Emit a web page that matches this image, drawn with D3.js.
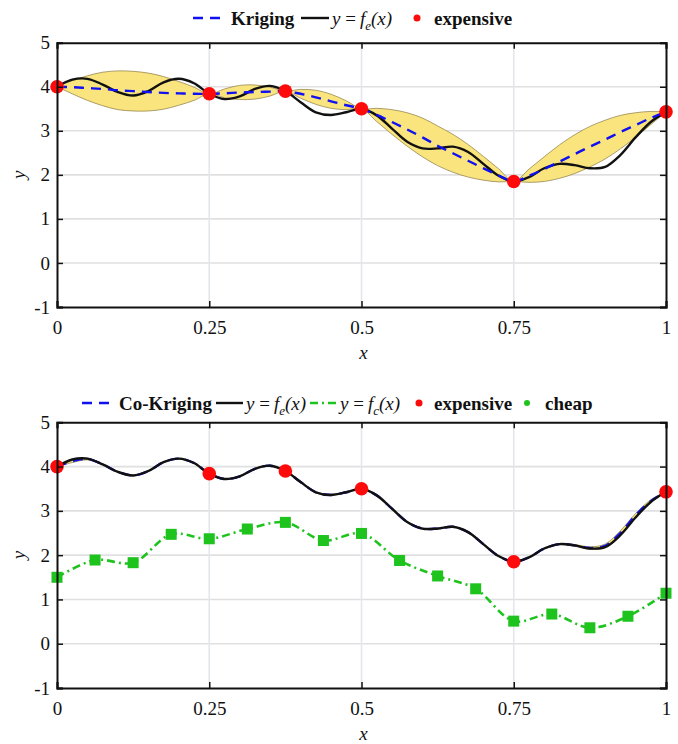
<!DOCTYPE html>
<html>
<head>
<meta charset="utf-8">
<script src="https://cdn.jsdelivr.net/npm/d3@7"></script>
<style>
  html, body { margin: 0; padding: 0; background: #ffffff; }
  svg { display: block; }
  svg text { font-family: "Liberation Serif", "Times New Roman", serif !important; fill: #111; }
</style>
</head>
<body>
<svg id="chart" width="678" height="744"></svg>
<script>
// ---- Sample locations of the dense curves ----
const sampleX = [0, 0.025, 0.05, 0.075, 0.1, 0.125, 0.15, 0.175, 0.2, 0.225,
  0.25, 0.275, 0.3, 0.325, 0.35, 0.375, 0.4, 0.425, 0.45, 0.475,
  0.5, 0.525, 0.55, 0.575, 0.6, 0.625, 0.65, 0.675, 0.7, 0.725,
  0.75, 0.775, 0.8, 0.825, 0.85, 0.875, 0.9, 0.925, 0.95, 0.975, 1];

// High-fidelity function y = f_e(x)
const feValues = [4.00, 4.16, 4.18, 4.05, 3.88, 3.80, 3.90, 4.10, 4.18, 4.08,
  3.84, 3.72, 3.78, 3.95, 4.02, 3.90, 3.65, 3.42, 3.36, 3.42,
  3.50, 3.35, 3.05, 2.75, 2.60, 2.60, 2.64, 2.52, 2.25, 1.98,
  1.85, 1.95, 2.15, 2.25, 2.22, 2.15, 2.18, 2.45, 2.85, 3.20, 3.43];

// Kriging prediction (expensive data only) and half-width of its band
const krigMean = [4.00, 3.99, 3.97, 3.95, 3.92, 3.90, 3.88, 3.86, 3.85, 3.84,
  3.84, 3.85, 3.87, 3.88, 3.89, 3.90, 3.84, 3.76, 3.67, 3.58,
  3.50, 3.36, 3.20, 3.03, 2.85, 2.66, 2.49, 2.32, 2.15, 1.99,
  1.85, 1.98, 2.13, 2.30, 2.47, 2.64, 2.80, 2.97, 3.13, 3.29, 3.43];
const krigHalf = [0, 0.15, 0.28, 0.38, 0.44, 0.45, 0.43, 0.37, 0.27, 0.15,
  0, 0.10, 0.16, 0.16, 0.10, 0, 0.10, 0.16, 0.16, 0.10,
  0, 0.15, 0.28, 0.38, 0.44, 0.45, 0.43, 0.37, 0.27, 0.15,
  0, 0.15, 0.28, 0.38, 0.44, 0.46, 0.44, 0.38, 0.28, 0.15, 0];

// Co-Kriging prediction (expensive + cheap data) and half-width of its band
const cokMean = [4.00, 4.12, 4.17, 4.05, 3.88, 3.80, 3.90, 4.10, 4.18, 4.08,
  3.84, 3.72, 3.78, 3.95, 4.02, 3.90, 3.65, 3.42, 3.36, 3.42,
  3.50, 3.35, 3.05, 2.75, 2.60, 2.60, 2.64, 2.52, 2.25, 1.98,
  1.85, 1.95, 2.15, 2.25, 2.22, 2.16, 2.21, 2.50, 2.90, 3.22, 3.43];
const cokHalf = [0, 0.03, 0.02, 0.01, 0.01, 0.01, 0.01, 0.01, 0.01, 0.01,
  0, 0.01, 0.01, 0.01, 0.01, 0, 0.01, 0.01, 0.01, 0.01,
  0, 0.01, 0.01, 0.01, 0.01, 0.01, 0.01, 0.01, 0.01, 0.01,
  0, 0.01, 0.01, 0.01, 0.02, 0.03, 0.04, 0.05, 0.04, 0.03, 0];

// Expensive (high-fidelity) samples
const expensiveX = [0, 0.25, 0.375, 0.5, 0.75, 1];
const expensiveY = [4.00, 3.84, 3.90, 3.50, 1.85, 3.43];

// Cheap (low-fidelity) samples, y = f_c(x)
const cheapX = [0, 0.0625, 0.125, 0.1875, 0.25, 0.3125, 0.375, 0.4375, 0.5,
  0.5625, 0.625, 0.6875, 0.75, 0.8125, 0.875, 0.9375, 1];
const cheapY = [1.50, 1.89, 1.83, 2.47, 2.37, 2.59, 2.74, 2.33, 2.49,
  1.88, 1.53, 1.24, 0.51, 0.67, 0.36, 0.62, 1.14];

// Axis ticks
const xTicks = [0, 0.25, 0.5, 0.75, 1];
const xTickLabels = ["0", "0.25", "0.5", "0.75", "1"];
const yTicks = [-1, 0, 1, 2, 3, 4, 5];

// ---- Drawing ----
const svg = d3.select("#chart");
const SERIF = '"Liberation Serif", "Times New Roman", serif';
const COLORS = { blue: "#1010f0", red: "#ff0a0a", green: "#1ec31e", band: "#f9e47e", bandEdge: "#8a7a45" };

const x = d3.scaleLinear().domain([0, 1]).range([57, 666]);

function buildPanel(top, bottom) {
  const y = d3.scaleLinear().domain([-1, 5]).range([bottom, top]);
  const g = svg.append("g");

  // grid
  g.append("g").selectAll("line").data(yTicks.slice(1, -1)).join("line")
    .attr("x1", x(0)).attr("x2", x(1))
    .attr("y1", d => y(d)).attr("y2", d => y(d))
    .attr("stroke", "#e0e0e0").attr("stroke-width", 1.6);
  g.append("g").selectAll("line").data(xTicks.slice(1, -1)).join("line")
    .attr("x1", d => x(d)).attr("x2", d => x(d))
    .attr("y1", y(5)).attr("y2", y(-1))
    .attr("stroke", "#e3e6ea").attr("stroke-width", 1.6);

  return { g, y };
}

function drawAxes(p) {
  const { g, y } = p;
  const fmtX = d => xTickLabels[xTicks.indexOf(d)];
  const axB = g.append("g").attr("transform", `translate(0,${y(-1)})`)
    .call(d3.axisBottom(x).tickValues(xTicks).tickFormat(fmtX).tickSize(-6).tickPadding(14));
  const axT = g.append("g").attr("transform", `translate(0,${y(5)})`)
    .call(d3.axisTop(x).tickValues(xTicks).tickFormat("").tickSize(-6));
  const axL = g.append("g").attr("transform", `translate(${x(0)},0)`)
    .call(d3.axisLeft(y).tickValues(yTicks).tickFormat(d => String(d)).tickSize(-6).tickPadding(7));
  const axR = g.append("g").attr("transform", `translate(${x(1)},0)`)
    .call(d3.axisRight(y).tickValues(yTicks).tickFormat("").tickSize(-6));
  [axB, axT, axL, axR].forEach(a => {
    a.attr("font-family", SERIF).attr("font-size", 19);
    a.select(".domain").attr("stroke", "#111").attr("stroke-width", 2);
    a.selectAll(".tick line").attr("stroke", "#111").attr("stroke-width", 1.5);
    a.selectAll("text").style("font-family", SERIF).style("font-size", "19px").attr("fill", "#111");
  });

  // axis titles
  g.append("text").attr("x", (x(0) + x(1)) / 2 + 2).attr("y", y(-1) + 52)
    .attr("text-anchor", "middle").attr("font-size", 19).attr("font-style", "italic").text("x");
  g.append("text")
    .attr("transform", `translate(25,${(y(-1) + y(5)) / 2}) rotate(-90)`)
    .attr("text-anchor", "middle").attr("font-size", 19).attr("font-style", "italic").text("y");
}

const line = yv => d3.line().x((d, i) => x(sampleX[i])).y((d, i) => yv(d)).curve(d3.curveCatmullRom.alpha(0.5));
function band(g, y, mean, half) {
  const area = d3.area()
    .x((d, i) => x(sampleX[i]))
    .y0((d, i) => y(mean[i] - half[i]))
    .y1((d, i) => y(mean[i] + half[i]))
    .curve(d3.curveCatmullRom.alpha(0.5));
  g.append("path").datum(mean).attr("d", area)
    .attr("fill", COLORS.band).attr("stroke", COLORS.bandEdge).attr("stroke-width", 0.7);
}

function expensiveDots(g, y) {
  g.append("g").selectAll("circle").data(expensiveY).join("circle")
    .attr("cx", (d, i) => x(expensiveX[i])).attr("cy", d => y(d))
    .attr("r", 6.8).attr("fill", COLORS.red);
}

// ---------- top panel: Kriging ----------
const P1 = buildPanel(42.7, 307);
band(P1.g, P1.y, krigMean, krigHalf);
P1.g.append("path").datum(feValues).attr("d", line(P1.y))
  .attr("fill", "none").attr("stroke", "#111").attr("stroke-width", 2.4);
P1.g.append("path").datum(krigMean).attr("d", line(P1.y))
  .attr("fill", "none").attr("stroke", COLORS.blue).attr("stroke-width", 2.4)
  .attr("stroke-dasharray", "10,7");
expensiveDots(P1.g, P1.y);
drawAxes(P1);

// ---------- bottom panel: Co-Kriging ----------
const P2 = buildPanel(422.3, 688);
band(P2.g, P2.y, cokMean, cokHalf);
P2.g.append("path").datum(cokMean).attr("d", line(P2.y))
  .attr("fill", "none").attr("stroke", COLORS.blue).attr("stroke-width", 2.4)
  .attr("stroke-dasharray", "10,7");
P2.g.append("path").datum(feValues).attr("d", line(P2.y))
  .attr("fill", "none").attr("stroke", "#111").attr("stroke-width", 2.4);
const cheapLine = d3.line().x((d, i) => x(cheapX[i])).y(d => P2.y(d)).curve(d3.curveCatmullRom.alpha(0.5));
P2.g.append("path").datum(cheapY).attr("d", cheapLine)
  .attr("fill", "none").attr("stroke", COLORS.green).attr("stroke-width", 2.6)
  .attr("stroke-dasharray", "8,4,2,4");
P2.g.append("g").selectAll("rect").data(cheapY).join("rect")
  .attr("x", (d, i) => x(cheapX[i]) - 5.5).attr("y", d => P2.y(d) - 5.5)
  .attr("width", 11).attr("height", 11).attr("fill", COLORS.green);
expensiveDots(P2.g, P2.y);
drawAxes(P2);

// ---------- legends ----------
function legendText(lg, xPos, yc, str) {
  lg.append("text").attr("x", xPos).attr("y", yc + 6.5)
    .attr("font-size", 19).attr("font-weight", "bold").text(str);
}
function legendFormula(lg, xPos, yc, sub) {
  const t = lg.append("text").attr("x", xPos).attr("y", yc + 6.5).attr("font-size", 19);
  t.append("tspan").attr("font-style", "italic").text("y");
  t.append("tspan").text(" =");
  t.append("tspan").attr("font-style", "italic").attr("dx", 4).text("f");
  t.append("tspan").attr("font-style", "italic").attr("font-size", 13).attr("dy", 5).text(sub);
  t.append("tspan").attr("font-style", "italic").attr("dy", -5).text("(x)");
}
function legendLine(lg, x1, x2, yc, color, dash) {
  lg.append("line").attr("x1", x1).attr("x2", x2).attr("y1", yc).attr("y2", yc)
    .attr("stroke", color).attr("stroke-width", 2.4).attr("stroke-dasharray", dash || null);
}

const L1 = svg.append("g"), y1c = 18;
legendLine(L1, 193, 226, y1c, COLORS.blue, "10,7");
legendText(L1, 231, y1c, "Kriging");
legendLine(L1, 301, 329, y1c, "#111");
legendFormula(L1, 332, y1c, "e");
L1.append("circle").attr("cx", 417).attr("cy", y1c).attr("r", 3.5).attr("fill", COLORS.red);
legendText(L1, 434, y1c, "expensive");

const L2 = svg.append("g"), y2c = 403;
legendLine(L2, 82, 114, y2c, COLORS.blue, "10,7");
legendText(L2, 119, y2c, "Co-Kriging");
legendLine(L2, 216, 243, y2c, "#111");
legendFormula(L2, 246, y2c, "e");
legendLine(L2, 310, 337, y2c, COLORS.green, "8,4,2,4");
legendFormula(L2, 340, y2c, "c");
L2.append("circle").attr("cx", 419).attr("cy", y2c).attr("r", 3.5).attr("fill", COLORS.red);
legendText(L2, 434, y2c, "expensive");
L2.append("circle").attr("cx", 527).attr("cy", y2c).attr("r", 3).attr("fill", COLORS.green);
legendText(L2, 545, y2c, "cheap");
</script>
</body>
</html>
